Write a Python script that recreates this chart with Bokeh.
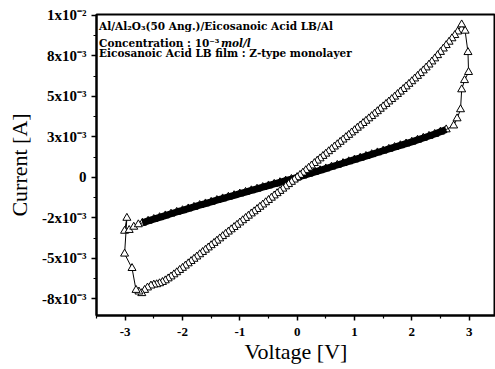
from bokeh.plotting import figure
from bokeh.models import Range1d, FixedTicker, Label, CustomJSTickFormatter
from bokeh.embed import file_html
from bokeh.resources import INLINE

# ---- data (voltage in V, current in mA) ----
# low-conductance branch, sweep 0 V -> +2.6 V
low_up_v = [0.0, 0.1, 0.2, 0.3, 0.4, 0.5, 0.6, 0.7, 0.8, 0.9, 1.0, 1.1, 1.2, 1.3,
            1.4, 1.5, 1.6, 1.7, 1.8, 1.9, 2.0, 2.1, 2.2, 2.3, 2.4, 2.5, 2.6]
low_up_ma = [0.00, 0.11, 0.22, 0.33, 0.44, 0.55, 0.66, 0.77, 0.88, 0.99, 1.10, 1.21, 1.32, 1.43,
             1.54, 1.65, 1.76, 1.87, 1.98, 2.09, 2.20, 2.32, 2.44, 2.56, 2.68, 2.82, 2.96]
# switching near +3 V
on_sw_v = [2.73, 2.79, 2.85, 2.87, 2.92, 2.99, 2.98, 2.93, 2.87]
on_sw_ma = [3.20, 3.64, 4.20, 5.43, 6.00, 6.50, 7.73, 9.05, 9.44]
# high-conductance branch, sweep +2.8 V -> -2.4 V
high_v = [2.80, 2.75, 2.70, 2.65, 2.60, 2.55, 2.50, 2.45, 2.40, 2.35, 2.30, 2.25, 2.20, 2.15,
          2.10, 2.05, 2.00, 1.95, 1.90, 1.85, 1.80, 1.75, 1.70, 1.65, 1.60, 1.55, 1.50, 1.45,
          1.40, 1.35, 1.30, 1.25, 1.20, 1.15, 1.10, 1.05, 1.00, 0.95, 0.90, 0.85, 0.80, 0.75,
          0.70, 0.65, 0.60, 0.55, 0.50, 0.45, 0.40, 0.35, 0.30, 0.25, 0.20, 0.15, 0.10, 0.05,
          0.00, -0.05, -0.10, -0.15, -0.20, -0.25, -0.30, -0.35, -0.40, -0.45, -0.50, -0.55,
          -0.60, -0.65, -0.70, -0.75, -0.80, -0.85, -0.90, -0.95, -1.00, -1.05, -1.10, -1.15,
          -1.20, -1.25, -1.30, -1.35, -1.40, -1.45, -1.50, -1.55, -1.60, -1.65, -1.70, -1.75,
          -1.80, -1.85, -1.90, -1.95, -2.00, -2.05, -2.10, -2.15, -2.20, -2.25, -2.30, -2.35,
          -2.40]
high_ma = [9.00, 8.78, 8.58, 8.37, 8.16, 7.95, 7.74, 7.54, 7.34, 7.15, 6.96, 6.78, 6.60, 6.43,
           6.26, 6.10, 5.93, 5.77, 5.61, 5.45, 5.29, 5.14, 4.98, 4.83, 4.68, 4.53, 4.38, 4.23,
           4.08, 3.93, 3.78, 3.64, 3.49, 3.35, 3.20, 3.06, 2.91, 2.77, 2.62, 2.48, 2.33, 2.19,
           2.04, 1.90, 1.75, 1.61, 1.46, 1.32, 1.17, 1.03, 0.88, 0.73, 0.59, 0.44, 0.29, 0.15,
           0.00, -0.14, -0.28, -0.42, -0.56, -0.70, -0.84, -0.98, -1.12, -1.26, -1.40, -1.54,
           -1.68, -1.82, -1.96, -2.10, -2.23, -2.37, -2.51, -2.65, -2.79, -2.93, -3.07, -3.21,
           -3.35, -3.49, -3.63, -3.77, -3.91, -4.05, -4.19, -4.33, -4.47, -4.61, -4.75, -4.89,
           -5.03, -5.17, -5.31, -5.45, -5.59, -5.72, -5.86, -5.99, -6.12, -6.24, -6.36, -6.46,
           -6.54]
# switching near -3 V
off_sw_v = [-2.45, -2.50, -2.55, -2.61, -2.66, -2.71, -2.76, -2.81, -2.88, -3.01,
            -2.97, -3.01, -2.93, -2.85, -2.77]
off_sw_ma = [-6.60, -6.62, -6.68, -6.80, -6.95, -7.15, -7.05, -6.95, -5.60, -4.71,
             -2.50, -3.30, -3.25, -3.05, -2.90]
# low-conductance branch, sweep -2.7 V -> 0 V
low_back_v = [-2.7, -2.6, -2.5, -2.4, -2.3, -2.2, -2.1, -2.0, -1.9, -1.8, -1.7, -1.6, -1.5, -1.4,
              -1.3, -1.2, -1.1, -1.0, -0.9, -0.8, -0.7, -0.6, -0.5, -0.4, -0.3, -0.2, -0.1, 0.0]
low_back_ma = [-2.80, -2.68, -2.57, -2.46, -2.35, -2.24, -2.13, -2.03, -1.92, -1.82, -1.71, -1.61,
               -1.51, -1.40, -1.30, -1.20, -1.10, -1.00, -0.90, -0.80, -0.70, -0.60, -0.50, -0.40,
               -0.30, -0.20, -0.10, 0.00]

# ticks
x_ticks = [-3, -2, -1, 0, 1, 2, 3]
x_labels = ["-3", "-2", "-1", "0", "1", "2", "3"]
x_minor = [-3.5, -2.5, -1.5, -0.5, 0.5, 1.5, 2.5, 3.5]
y_ticks = [-0.0075, -0.005, -0.0025, 0.0, 0.0025, 0.005, 0.0075, 0.01]
y_labels = ["-8x10\u207b\u00b3", "-5x10\u207b\u00b3", "-2x10\u207b\u00b3", "0",
            "3x10\u207b\u00b3", "5x10\u207b\u00b3", "8x10\u207b\u00b3", "1x10\u207b\u00b2"]
y_minor = [-0.00875, -0.00625, -0.00375, -0.00125, 0.00125, 0.00375, 0.00625, 0.00875]

ann1 = "Al/Al\u2082O\u2083(50 Ang.)/Eicosanoic Acid LB/Al"
ann2 = "Concentration : 10\u207b\u00b3"
ann2b = "mol/l"
ann3 = "Eicosanoic Acid LB film : Z-type monolayer"

def amps(ma):
    return [m * 1e-3 for m in ma]

p = figure(width=495, height=369, output_backend="svg", toolbar_location=None,
           x_range=Range1d(-3.5, 3.46), y_range=Range1d(-8.52e-3, 10.06e-3),
           min_border_left=96, min_border_right=0, min_border_top=14, min_border_bottom=54)
p.grid.visible = False
p.outline_line_color = "black"
p.outline_line_width = 2
p.background_fill_color = "white"
p.border_fill_color = "white"

FONT = "Liberation Serif"
for ax in (p.xaxis[0], p.yaxis[0]):
    ax.axis_line_width = 2
    ax.major_tick_line_width = 1.5
    ax.minor_tick_line_width = 1.2
    ax.major_tick_out = 5
    ax.major_tick_in = 0
    ax.minor_tick_out = 3
    ax.minor_tick_in = 0
    ax.major_label_text_font = FONT
    ax.major_label_text_font_style = "bold"
    ax.major_label_text_color = "black"
    ax.axis_label_text_font = FONT
    ax.axis_label_text_font_style = "normal"
    ax.axis_label_text_font_size = "22px"
    ax.axis_label_text_color = "black"

p.xaxis.ticker = FixedTicker(ticks=x_ticks, minor_ticks=x_minor)
p.yaxis.ticker = FixedTicker(ticks=y_ticks, minor_ticks=y_minor)
p.xaxis.major_label_text_font_size = "13px"
p.yaxis.major_label_text_font_size = "15px"
p.xaxis.major_label_standoff = 7
p.yaxis.major_label_standoff = 5
p.xaxis.axis_label = "Voltage [V]"
p.yaxis.axis_label = "Current [A]"
p.xaxis.axis_label_standoff = 0
p.yaxis.axis_label_standoff = 7
fmt_code = """
for (let i = 0; i < vals.length; i++) { if (Math.abs(vals[i] - tick) < 1e-9) return labs[i]; }
return "";
"""
p.xaxis.formatter = CustomJSTickFormatter(args=dict(vals=x_ticks, labs=x_labels), code=fmt_code)
p.yaxis.formatter = CustomJSTickFormatter(args=dict(vals=y_ticks, labs=y_labels), code=fmt_code)

# full measured path
path_v = low_up_v + on_sw_v + high_v + off_sw_v + low_back_v
path_i = amps(low_up_ma + on_sw_ma + high_ma + off_sw_ma + low_back_ma)

# dense low-conductance branches appear as a solid band
p.line(low_up_v, amps(low_up_ma), line_color="black", line_width=7)
p.line(low_back_v, amps(low_back_ma), line_color="black", line_width=7)
p.line(path_v, path_i, line_color="black", line_width=1)
p.scatter(low_up_v + low_back_v, amps(low_up_ma + low_back_ma), marker="triangle", size=8,
          fill_color=None, line_color="black", line_width=1)
p.scatter(on_sw_v + high_v + off_sw_v, amps(on_sw_ma + high_ma + off_sw_ma), marker="triangle",
          size=8, fill_color="white", line_color="black", line_width=1)

TFONT = "DejaVu Serif"
TSIZE = "10.5px"
p.add_layout(Label(x=-3.455, y=9.0e-3, text=ann1, text_font=TFONT, text_font_style="bold",
                   text_font_size=TSIZE, text_color="black"))
p.add_layout(Label(x=-3.455, y=7.9e-3, text=ann2, text_font=TFONT, text_font_style="bold",
                   text_font_size=TSIZE, text_color="black"))
p.add_layout(Label(x=-1.33, y=7.9e-3, text=ann2b, text_font=TFONT, text_font_style="bold italic",
                   text_font_size=TSIZE, text_color="black"))
p.add_layout(Label(x=-3.455, y=7.3e-3, text=ann3, text_font=TFONT, text_font_style="bold",
                   text_font_size=TSIZE, text_color="black"))

open("out.html", "w").write(file_html(p, INLINE))
